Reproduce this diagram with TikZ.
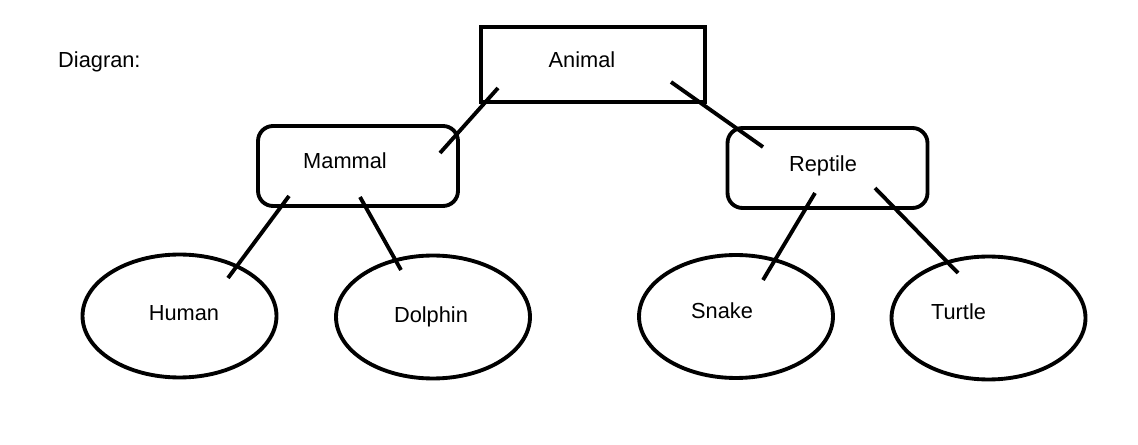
\documentclass[tikz,border=0pt]{standalone}
\usepackage{fontspec}
\setmainfont{Liberation Sans}
\usetikzlibrary{shapes.geometric}

\begin{document}
\begin{tikzpicture}[x=0.02cm,y=-0.02cm,
     every node/.style = {font=\fontsize{12.4}{15}\selectfont},
     topbox/.style = {draw, rectangle, line width=2.2pt, minimum width=4.48cm, minimum height=1.5cm, inner sep=0pt},
     classbox/.style = {draw, rectangle, rounded corners=0.3cm, line width=2.2pt, minimum width=4cm, minimum height=1.6cm, inner sep=0pt},
     leaf/.style = {draw, ellipse, line width=2.2pt, minimum width=3.88cm, minimum height=2.46cm, inner sep=0pt},
     link/.style = {draw, line width=2.2pt}
    ]
    \useasboundingbox (0,0) rectangle (1138,445);
    % title
    \node [anchor=west] (title) at (52,62) {Diagran:};
    % boxes
    \node [topbox, label={[xshift=-0.22cm,yshift=0.1cm]center:Animal}] (animal) at (593,64.5) {};
    \node [classbox, label={[xshift=-0.26cm,yshift=0.1cm]center:Mammal}] (mammal) at (358,166) {};
    \node [classbox, label={[xshift=-0.09cm,yshift=0.04cm]center:Reptile}] (reptile) at (827.5,168) {};
    % leaves
    \node [leaf, label={[xshift=0.09cm,yshift=0.06cm]center:Human}] (human) at (179.5,316) {};
    \node [leaf, label={[xshift=-0.04cm]center:Dolphin}] (dolphin) at (433,317) {};
    \node [leaf, label={[xshift=-0.28cm,yshift=0.12cm]center:Snake}] (snake) at (736,316.5) {};
    \node [leaf, label={[xshift=-0.6cm,yshift=0.12cm]center:Turtle}] (turtle) at (988.5,318) {};

    \draw [link] ([shift={(-95,23.5)}]animal.center) -- ([shift={(82,-13)}]mammal.center);
    \draw [link] ([shift={(78,17.5)}]animal.center) -- ([shift={(-64.5,-21)}]reptile.center);
    \draw [link] ([shift={(-69,30)}]mammal.center) -- ([shift={(48.5,-38)}]human.center);
    \draw [link] ([shift={(2,31)}]mammal.center) -- ([shift={(-32,-47)}]dolphin.center);
    \draw [link] ([shift={(-12.5,25)}]reptile.center) -- ([shift={(27,-36.5)}]snake.center);
    \draw [link] ([shift={(47.5,20)}]reptile.center) -- ([shift={(-30.5,-45)}]turtle.center);
\end{tikzpicture}
\end{document}
